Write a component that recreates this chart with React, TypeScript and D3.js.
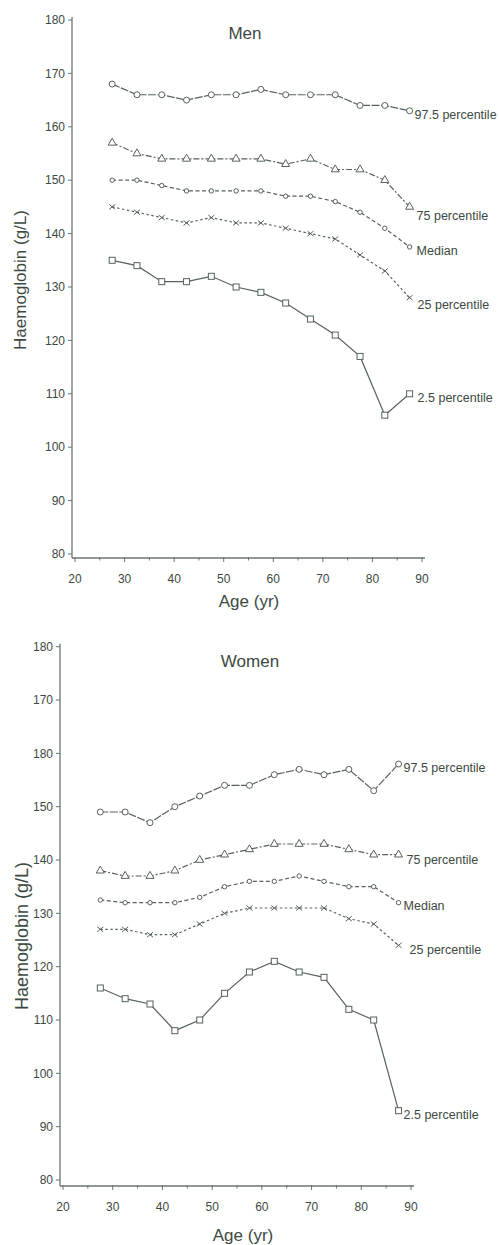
import * as d3 from "d3";

const AGES = [27.5, 32.5, 37.5, 42.5, 47.5, 52.5, 57.5, 62.5, 67.5, 72.5, 77.5, 82.5, 87.5];
const SERIES_NAMES = ["97.5 percentile", "75 percentile", "Median", "25 percentile", "2.5 percentile"];

const MEN_P975 = [168, 166, 166, 165, 166, 166, 167, 166, 166, 166, 164, 164, 163];
const MEN_P75 = [157, 155, 154, 154, 154, 154, 154, 153, 154, 152, 152, 150, 145];
const MEN_P50 = [150, 150, 149, 148, 148, 148, 148, 147, 147, 146, 144, 141, 137.5];
const MEN_P25 = [145, 144, 143, 142, 143, 142, 142, 141, 140, 139, 136, 133, 128];
const MEN_P025 = [135, 134, 131, 131, 132, 130, 129, 127, 124, 121, 117, 106, 110];

const WOMEN_P975 = [149, 149, 147, 150, 152, 154, 154, 156, 157, 156, 157, 153, 158];
const WOMEN_P75 = [138, 137, 137, 138, 140, 141, 142, 143, 143, 143, 142, 141, 141];
const WOMEN_P50 = [132.5, 132, 132, 132, 133, 135, 136, 136, 137, 136, 135, 135, 132];
const WOMEN_P25 = [127, 127, 126, 126, 128, 130, 131, 131, 131, 131, 129, 128, 124];
const WOMEN_P025 = [116, 114, 113, 108, 110, 115, 119, 121, 119, 118, 112, 110, 93];

const Y_TICKS = [80, 90, 100, 110, 120, 130, 140, 150, 160, 170, 180];
const MEN_Y_LABELS = ["80", "90", "100", "110", "120", "130", "140", "150", "160", "170", "180"];
// the printed women's axis reads "180" at the 160 tick
const WOMEN_Y_LABELS = ["80", "90", "100", "110", "120", "130", "140", "150", "180", "170", "180"];
const X_TICKS = [20, 30, 40, 50, 60, 70, 80, 90];
const X_MINOR = [25, 35, 45, 55, 65, 75, 85];

const INK = "#3c4942";
const LINE = "#56625b";
const FONT = "'Liberation Sans', Arial, Helvetica, sans-serif";

const DASHES = ["8,1.5", "6,2,2,2", "4,2.5", "2.5,2.5", null];
const MARKERS = ["circle", "triangle", "smallCircle", "cross", "square"];

function Marker({ kind, x, y }: { kind: string; x: number; y: number }) {
  const common = { fill: "white", stroke: LINE, strokeWidth: 1 };
  if (kind === "circle") return <circle cx={x} cy={y} r={3} {...common} />;
  if (kind === "smallCircle") return <circle cx={x} cy={y} r={2.2} {...common} />;
  if (kind === "square") return <rect x={x - 3} y={y - 3} width={6} height={6} {...common} />;
  if (kind === "triangle") {
    const p = d3.symbol(d3.symbolTriangle, 28)() || "";
    return <path d={p} transform={`translate(${x},${y})`} {...common} />;
  }
  return (
    <g stroke={LINE} strokeWidth={1}>
      <line x1={x - 3} y1={y - 2.5} x2={x + 3} y2={y + 2.5} />
      <line x1={x - 3} y1={y + 2.5} x2={x + 3} y2={y - 2.5} />
    </g>
  );
}

interface PanelProps {
  title: string;
  series: number[][];
  yLabels: string[];
  xRange: [number, number];
  yRange: [number, number];
  axisX: number;
  axisY: number;
  titlePos: [number, number];
  xTitlePos: [number, number];
  yTitlePos: [number, number];
  labelOffsets: [number, number][];
  yTitleSize: number;
}

function Panel(p: PanelProps) {
  const x = d3.scaleLinear().domain([20, 90]).range(p.xRange);
  const y = d3.scaleLinear().domain([80, 180]).range(p.yRange);
  const line = d3
    .line<number>()
    .x((_, i) => x(AGES[i]))
    .y((d) => y(d));

  return (
    <g fontFamily={FONT} fill={INK}>
      {/* axes */}
      <line x1={p.axisX} x2={p.axisX} y1={y(180) - 3} y2={p.axisY} stroke="#6b7570" strokeWidth={1.3} />
      <line x1={p.axisX} x2={x(90) + 3} y1={p.axisY} y2={p.axisY} stroke="#6b7570" strokeWidth={1.3} />
      {Y_TICKS.map((t, i) => (
        <g key={t}>
          <line x1={p.axisX - 4} x2={p.axisX} y1={y(t)} y2={y(t)} stroke="#6b7570" />
          <text x={p.axisX - 7} y={y(t)} dy="0.35em" textAnchor="end" fontSize={12}>
            {p.yLabels[i]}
          </text>
        </g>
      ))}
      {X_TICKS.map((t) => (
        <g key={t}>
          <line x1={x(t)} x2={x(t)} y1={p.axisY - 1} y2={p.axisY + 4} stroke="#6b7570" />
          <text x={x(t)} y={p.axisY + 21} dy="0.35em" textAnchor="middle" fontSize={12}>
            {t}
          </text>
        </g>
      ))}
      {X_MINOR.map((t) => (
        <line key={t} x1={x(t)} x2={x(t)} y1={p.axisY - 1} y2={p.axisY + 2.5} stroke="#6b7570" />
      ))}

      <text x={p.titlePos[0]} y={p.titlePos[1]} dy="0.35em" textAnchor="middle" fontSize={17}>
        {p.title}
      </text>
      <text x={p.xTitlePos[0]} y={p.xTitlePos[1]} dy="0.35em" textAnchor="middle" fontSize={17}>
        Age (yr)
      </text>
      <text
        transform={`translate(${p.yTitlePos[0]},${p.yTitlePos[1]}) rotate(-90)`}
        dy="0.35em"
        textAnchor="middle"
        fontSize={p.yTitleSize}
      >
        Haemoglobin (g/L)
      </text>

      {p.series.map((vals, si) => (
        <g key={si}>
          <path
            d={line(vals) || ""}
            fill="none"
            stroke={LINE}
            strokeWidth={1.2}
            strokeDasharray={DASHES[si] || undefined}
          />
          {vals.map((v, i) => (
            <Marker key={i} kind={MARKERS[si]} x={x(AGES[i])} y={y(v)} />
          ))}
          <text
            x={x(AGES[AGES.length - 1]) + p.labelOffsets[si][0]}
            y={y(vals[vals.length - 1]) + p.labelOffsets[si][1]}
            dy="0.35em"
            fontSize={12.5}
          >
            {SERIES_NAMES[si]}
          </text>
        </g>
      ))}
    </g>
  );
}

export default function App() {
  return (
    <svg
      width={499}
      height={1245}
      style={{ position: "absolute", left: 0, top: 0, background: "white" }}
    >
      <rect width={499} height={1245} fill="white" />
      <Panel
        title="Men"
        series={[MEN_P975, MEN_P75, MEN_P50, MEN_P25, MEN_P025]}
        yLabels={MEN_Y_LABELS}
        xRange={[75, 422]}
        yRange={[554, 20]}
        axisX={72}
        axisY={558}
        titlePos={[245, 33]}
        xTitlePos={[249, 601]}
        yTitlePos={[20, 280]}
        yTitleSize={17}
        labelOffsets={[[5, 4], [7, 9], [7, 4], [8, 7], [8, 4]]}
      />
      <Panel
        title="Women"
        series={[WOMEN_P975, WOMEN_P75, WOMEN_P50, WOMEN_P25, WOMEN_P025]}
        yLabels={WOMEN_Y_LABELS}
        xRange={[63, 411]}
        yRange={[1180, 646.7]}
        axisX={60}
        axisY={1186}
        titlePos={[250, 661]}
        xTitlePos={[243, 1235]}
        yTitlePos={[22, 936]}
        yTitleSize={18}
        labelOffsets={[[5, 4], [8, 5], [5, 3], [11, 4], [5, 4]]}
      />
    </svg>
  );
}
